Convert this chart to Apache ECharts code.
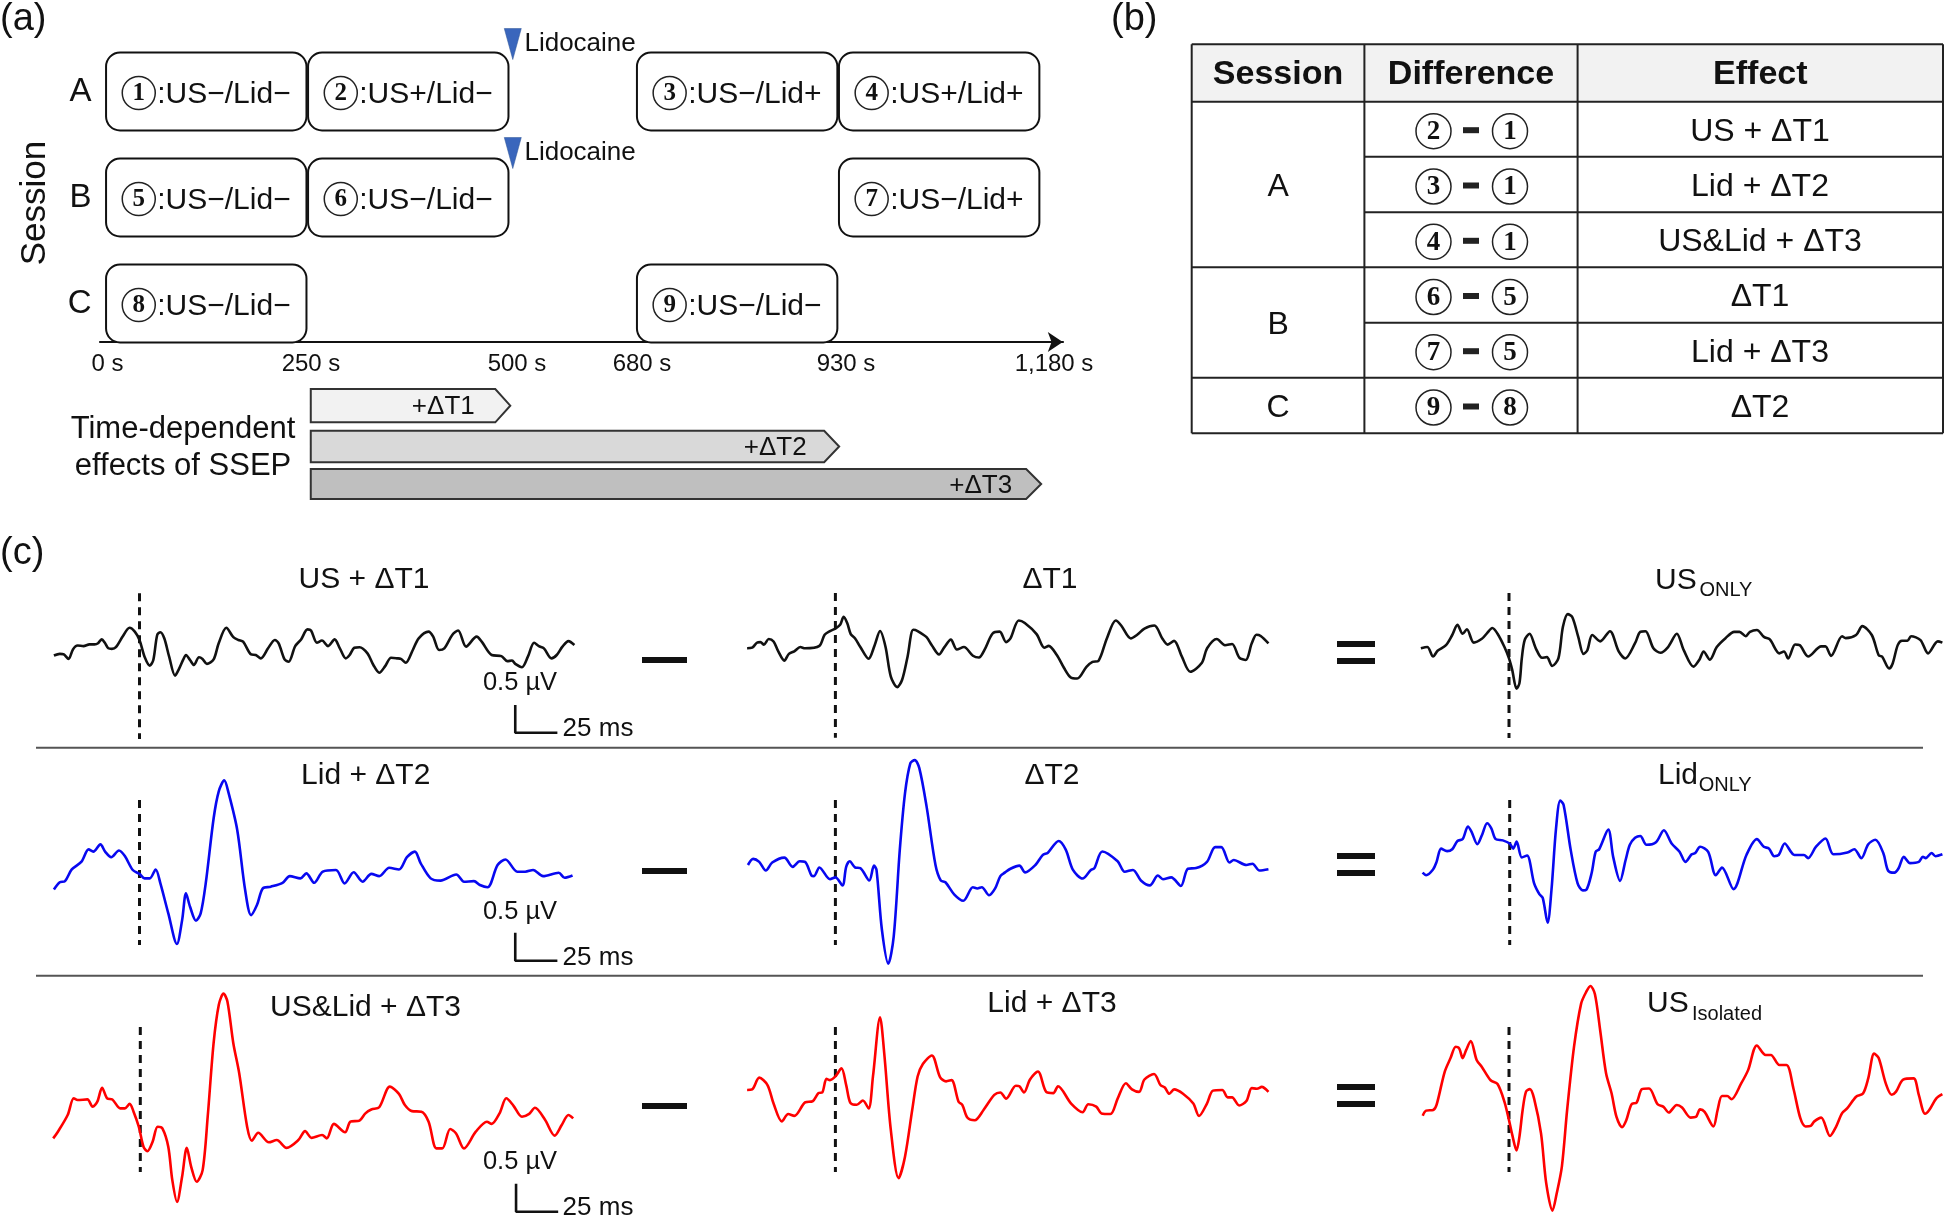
<!DOCTYPE html>
<html><head><meta charset="utf-8">
<style>html,body{margin:0;padding:0;background:#fff}#c{width:1946px;height:1217px}</style>
<script src="https://cdn.jsdelivr.net/npm/echarts@6/dist/echarts.min.js"></script>
</head><body><div id="c"></div>
<script>
// ---------- Panel (a) data: seconds ----------
const sessionRows = ['A','B','C'];
const sessionBlocks = [
 {row:0,start:0,end:250,num:'1',label:':US−/Lid−'},
 {row:0,start:250,end:500,num:'2',label:':US+/Lid−'},
 {row:0,start:680,end:930,num:'3',label:':US−/Lid+'},
 {row:0,start:930,end:1180,num:'4',label:':US+/Lid+'},
 {row:1,start:0,end:250,num:'5',label:':US−/Lid−'},
 {row:1,start:250,end:500,num:'6',label:':US−/Lid−'},
 {row:1,start:930,end:1180,num:'7',label:':US−/Lid+'},
 {row:2,start:0,end:250,num:'8',label:':US−/Lid−'},
 {row:2,start:680,end:930,num:'9',label:':US−/Lid−'}
];
const lidocaineTimes = [[500,0],[500,1]];
const timeTicks = ['0 s','250 s','500 s','680 s','930 s','1,180 s'];
const timeEffects = [
 {name:'+ΔT1',start:250,end:500,fill:'#F2F2F2'},
 {name:'+ΔT2',start:250,end:930,fill:'#D9D9D9'},
 {name:'+ΔT3',start:250,end:1180,fill:'#BFBFBF'}
];
// ---------- Panel (b) data ----------
const tableHeader = ['Session','Difference','Effect'];
const tableSessions = [['A',0,3],['B',3,5],['C',5,6]];
const tableDiffs = [['2','1'],['3','1'],['4','1'],['6','5'],['7','5'],['9','8']];
const tableEffects = ['US + ΔT1','Lid + ΔT2','US&Lid + ΔT3','ΔT1','Lid + ΔT3','ΔT2'];
// ---------- Panel (c) data: [ms from stimulus, amplitude µV] ----------
const usPlusT1 = [[-50.8,-.01],[-47.3,.02],[-44.9,.01],[-42.1,-.07],[-39.5,.10],[-36.7,.17],[-33.2,.16],[-29.7,.19],[-26.7,.19],[-24.6,.21],[-22.5,.28],[-20.4,.21],[-18.5,.12],[-16.4,.11],[-14,.14],[-9.8,.34],[-5.9,.49],[-2.8,.42],[0,.27],[3,-.03],[6.1,-.19],[8.2,-.09],[10.5,.36],[12.4,.41],[14.7,.3],[17.6,-.03],[21.1,-.37],[23.6,-.24],[26,-.08],[27.6,0],[30,-.09],[32.3,-.18],[35.3,-.04],[37.4,-.07],[40,-.16],[44,-.08],[47,.21],[51.5,.49],[55.7,.32],[58.7,.27],[61.5,.24],[66.2,.01],[69,0],[72,-.06],[76.3,.12],[80.3,.27],[82.6,.21],[86.1,-.08],[88.5,-.12],[92.4,.16],[95.9,.28],[99.7,.46],[101.8,.44],[105.3,.22],[108.3,.26],[111.9,.16],[115.8,.28],[118.9,.12],[122.4,-.06],[124.7,0],[127.5,.13],[130.6,.14],[135.3,.03],[138.8,-.18],[142.3,-.32],[145.8,-.2],[149.3,-.05],[152.8,-.06],[155.1,-.07],[158,-.14],[162.2,.09],[165.7,.3],[171.5,.42],[174.3,.33],[177.8,.09],[180.9,.12],[185.6,.36],[189.1,.44],[193.8,.15],[200.1,.33],[203.1,.24],[209,0],[214.8,-.02],[218.3,-.11],[221.1,-.1],[223,-.16],[227,-.22],[230.5,-.03],[234.2,.22],[237,.16],[240,.12],[244.5,-.06],[247.6,0],[251,.15],[254.6,.25],[258.1,.18]];
const deltaT1 = [[-52.4,0],[-49.4,.01],[-46.6,.09],[-44.5,.10],[-42.4,.06],[-39.6,.15],[-36.7,.11],[-33.9,-.05],[-30.3,-.2],[-27.6,-.09],[-24.4,-.05],[-20.8,.02],[-18,0],[-9.5,.04],[-6.4,.22],[-3.2,.28],[0,.32],[2.8,.38],[4.9,.51],[7,.41],[9.1,.23],[11.7,.16],[14.8,.02],[19.7,-.17],[23.3,.05],[26.5,.28],[29.7,.03],[32.9,-.46],[36.7,-.63],[39.6,-.51],[42.8,-.14],[46.2,.3],[48.8,.28],[54.1,.18],[57.2,.05],[61.5,-.1],[64.7,.02],[68.5,.14],[72.1,-.02],[76.3,.02],[81.6,-.12],[85.2,-.15],[88.4,-.03],[93.3,.24],[97.5,.27],[101.3,.1],[103.9,.16],[108.8,.45],[112.4,.41],[119.4,.23],[124,.01],[126.6,.04],[131.4,-.11],[135.7,-.32],[139.5,-.47],[143.5,-.49],[149,-.3],[152.6,-.22],[156.2,-.2],[161.1,.16],[166.4,.45],[169.6,.37],[175.3,.16],[179.1,.22],[183.4,.32],[189.3,.37],[194,.16],[197.2,.06],[201,.12],[205.7,-.14],[210.6,-.38],[217.4,-.24],[220.6,0],[226.3,.15],[231.2,.05],[235.4,.07],[239.7,-.15],[243.5,-.19],[247.1,.08],[249.9,.22],[252.4,.2],[257,.08]];
const usOnly = [[-52.3,0],[-48.5,.02],[-45,-.13],[-42.4,-.04],[-37.4,.05],[-33.7,.21],[-30.6,.37],[-27.5,.23],[-25,.3],[-20.9,.09],[-16.1,.15],[-13,.24],[-9.9,.32],[-6.8,.23],[-2.7,.02],[0,-.16],[1.9,-.34],[4.5,-.64],[6.2,-.55],[7.6,-.16],[9.3,.13],[12.2,.23],[15.9,0],[19.6,-.15],[22.5,-.14],[25.6,-.28],[29.3,-.16],[32,.34],[34.9,.54],[37.6,.49],[41.1,.18],[44.2,-.09],[46.5,-.03],[49.4,.21],[54.1,.11],[59.9,.27],[65.1,-.05],[69,-.16],[74.8,.08],[77.9,.26],[81,.27],[85.7,0],[89.9,-.07],[94.4,.02],[99.6,.23],[103.7,-.03],[109.5,-.29],[113,-.18],[115.5,-.05],[119.2,-.18],[123.3,.02],[128.5,.16],[133.7,.26],[136.8,.26],[140.5,.19],[143,.26],[147.1,.29],[151.3,.18],[154.8,.14],[160.5,-.08],[163.2,-.05],[165.7,-.16],[169.8,.06],[172.5,.05],[177.5,-.13],[185.3,.03],[187.8,.03],[191.1,-.12],[197.7,.19],[199.8,.16],[206,.21],[209.7,.35],[215.3,.21],[219.4,-.11],[221.4,-.13],[225.6,-.32],[227.7,-.24],[230.7,.05],[233.2,.12],[236.5,.12],[238.6,.19],[244.2,.13],[248.7,-.08],[254.5,.11],[257.2,.09]];
const lidPlusT2 = [[-50.8,-.23],[-47.3,-.1],[-44.2,-.08],[-40.2,.13],[-34.4,.27],[-30.2,.49],[-27.4,.45],[-23.2,.58],[-20.4,.45],[-16.8,.35],[-12.2,.47],[-8.7,.37],[-4,.12],[0,.05],[3,-.03],[6.1,-.03],[9.6,.13],[12.4,-.12],[17.1,-.66],[22.2,-1.21],[25.3,-.78],[27.6,-.3],[30,-.54],[33.5,-.79],[36.3,-.66],[39.3,-.12],[44,1.05],[47,1.53],[50.3,1.73],[52.9,1.5],[58,.84],[62.7,-.24],[66.2,-.69],[69.7,-.51],[73.2,-.21],[77.9,-.18],[84.9,-.11],[89.2,.01],[95.5,-.03],[99,.06],[103.7,-.11],[108.8,.09],[116.6,.12],[121.7,-.12],[127.1,.08],[132.4,-.09],[137.6,.05],[142.3,.01],[148.2,.16],[154,.13],[158.7,.35],[163.4,.45],[166.9,.24],[172.8,-.03],[178.6,-.07],[188,.04],[192.6,-.09],[198.5,-.08],[202,-.15],[206.6,-.19],[212.5,.21],[217.2,.31],[224.2,.09],[228.9,.09],[233.6,.12],[239.5,.01],[248.8,.07],[252.3,-.02],[257,.02]];
const deltaT2 = [[-51.9,0],[-48.8,.1],[-45.2,.05],[-41.3,-.09],[-37.5,.04],[-30.3,.12],[-25.4,-.03],[-21.2,.06],[-18,.05],[-14.2,-.17],[-12.7,-.18],[-9.5,-.04],[-3.2,-.23],[0,-.2],[4.2,-.33],[6.4,-.03],[8.5,.06],[11.7,-.04],[14.8,-.05],[20.1,-.25],[22.9,-.01],[24.4,-.08],[27.6,-1.05],[31.4,-1.6],[34.6,-1.16],[38.2,.24],[41.3,1.16],[44.5,1.65],[47.1,1.7],[49.8,1.57],[54.1,.95],[59.4,0],[62.5,-.25],[65.3,-.28],[70.6,-.48],[75.9,-.58],[81.6,-.36],[84.2,-.38],[86.9,-.36],[91.2,-.49],[94.8,-.38],[97.9,-.18],[100.7,-.12],[103.9,-.06],[109.2,-.01],[112.6,-.12],[118.7,0],[123,.16],[126.1,.2],[132.5,.39],[136.7,.25],[141,-.08],[146.7,-.22],[151.6,-.08],[153.7,-.05],[158.4,.22],[167.5,.06],[171.7,-.11],[176.6,-.08],[181.3,-.25],[186.6,-.33],[191.4,-.17],[194.4,-.23],[199.3,-.2],[205,-.34],[209.2,-.06],[214.1,-.05],[220.5,.05],[225.4,.29],[229,.29],[233.9,.04],[236.4,.08],[243.9,0],[247.5,.02],[251.7,-.09],[257,-.07]];
const lidOnly = [[-51.7,-.2],[-49.6,-.24],[-45.5,-.15],[-43.4,-.03],[-40.7,.18],[-37.2,.14],[-34.1,.17],[-31,.3],[-27.9,.33],[-24.8,.53],[-22.7,.45],[-19.2,.25],[-16.5,.39],[-13.4,.58],[-10.9,.5],[-8.3,.33],[-4.1,.31],[0,.26],[2.1,.18],[4.1,.29],[7.2,.04],[10.3,.07],[14.5,-.37],[17.6,-.54],[19.6,-.6],[22.5,-.99],[24.8,-.47],[27.5,.5],[30,.94],[32,.87],[36.2,.16],[40.3,-.37],[43.4,-.48],[45.5,-.47],[48.6,-.21],[51,.13],[53.1,.17],[58.5,.48],[61.4,.05],[65.5,-.33],[68.8,0],[71.3,.24],[74.4,.35],[77.5,.38],[81.2,.24],[86.8,.28],[91.5,.47],[96.1,.26],[100.8,.13],[104.3,-.03],[108,.09],[110.1,.11],[113,.21],[117.8,.13],[122.3,-.24],[126,-.12],[132.8,-.46],[140.5,.08],[146.7,.33],[150.8,.21],[153.9,.18],[157,.06],[159.7,.08],[163.2,.26],[169,.08],[174.6,.08],[177.1,.03],[181.8,.21],[187.4,.34],[192.1,.09],[200.4,.12],[204.5,.17],[208.7,.03],[212.8,.25],[217,.32],[221.7,.11],[224.6,-.17],[228.3,-.2],[230.8,-.13],[233.9,.05],[237.6,-.05],[242.8,-.03],[245.2,.05],[246.9,.03],[250.4,.11],[252.7,.06],[256.8,.09]];
const usLidPlusT3 = [[-51.7,-.51],[-48.9,-.39],[-43.1,-.09],[-39.5,.21],[-37.2,.18],[-31.4,.19],[-28.3,.06],[-25.5,.15],[-22.7,.4],[-19.7,.21],[-16.6,.19],[-11.9,.03],[-9.1,.03],[-6.3,.11],[-4,-.03],[-.9,-.3],[1.9,-.66],[4.2,-.74],[7.3,-.57],[10.3,-.3],[13.1,-.33],[16.6,-.66],[19,-1.26],[21.8,-1.65],[24.8,-1.2],[27.6,-.68],[30.2,-1.02],[33.5,-1.29],[37,-1.08],[40,-.12],[43.5,1.2],[46.6,1.89],[49.4,2.09],[51.7,1.95],[55.2,1.2],[58.7,.66],[63.4,-.3],[66.2,-.55],[70,-.41],[76.3,-.58],[81,-.54],[86.8,-.68],[93.8,-.54],[97.8,-.38],[101.6,-.5],[107.9,-.45],[110.7,-.51],[114.9,-.25],[121.5,-.4],[124.7,-.21],[130.1,-.19],[133.6,-.06],[137.1,.01],[141.8,.05],[148.1,.42],[153.5,.29],[157,.09],[161.2,-.02],[166.8,-.03],[171.1,-.21],[175.7,-.69],[179.2,-.69],[183.9,-.34],[187.4,-.42],[192.1,-.69],[199.1,-.39],[205.7,-.21],[208.5,-.25],[213.2,-.06],[217.2,.21],[221.4,.08],[226.5,-.12],[230.8,-.07],[234.2,.04],[240.1,-.17],[245.9,-.46],[250.1,-.27],[254.1,-.09],[256.9,-.15]];
const lidPlusT3 = [[-52.4,0],[-49.4,.01],[-45.2,.2],[-40.3,.08],[-36.7,-.22],[-31.8,-.51],[-28,-.39],[-24.4,-.42],[-18,-.2],[-13.4,-.18],[-10,-.05],[-7.8,-.04],[-5.3,.18],[-3.2,.16],[0,.22],[3.6,.35],[6.4,.08],[8.9,-.21],[12.7,-.24],[16.3,-.17],[19.7,-.3],[22.3,.22],[26.5,1.18],[29,.59],[32.9,-.65],[37.5,-1.43],[41.3,-1.08],[45.6,-.32],[48.8,.22],[51.9,.42],[57.2,.56],[62.1,.21],[65.7,.14],[68.9,.16],[73.1,-.19],[75.3,-.24],[78.4,-.45],[82.7,-.49],[88,-.32],[94.3,-.08],[97.9,-.04],[101.3,-.14],[107.1,.07],[109.2,.06],[111.9,-.04],[115.5,.17],[120.2,.3],[125.1,-.03],[129.3,-.05],[132.1,.06],[139.9,-.22],[146.7,-.36],[150.1,-.23],[154.8,-.27],[157.9,-.38],[163.2,-.39],[167.5,-.14],[172.4,.11],[176,.01],[180.2,-.03],[183.4,.17],[189.1,.26],[192.9,.08],[195.5,.04],[198.2,-.06],[201,.01],[206.3,-.06],[212.4,-.22],[215.8,-.42],[220.5,-.22],[224.1,-.01],[229.6,0],[232.8,-.12],[235.4,-.12],[239.6,-.25],[243.9,-.18],[247.1,.03],[250.2,.02],[253,.05],[257,-.03]];
const usIsolated = [[-51.2,-.09],[-49.2,-.01],[-45,0],[-43,.08],[-38.2,.6],[-34.7,.82],[-31.6,1],[-29.5,.97],[-27.5,.82],[-25.4,.95],[-22.7,1.09],[-19.2,.79],[-16.1,.68],[-10.9,.47],[-6.8,.41],[-2.7,.13],[0,-.16],[1.9,-.39],[4.5,-.64],[6.2,-.42],[8.1,0],[10.1,.29],[12.4,.33],[14.9,.18],[19,-.37],[22.1,-1.16],[25.8,-1.59],[28.3,-1.32],[31.4,-.89],[34.5,0],[38.6,1],[42.8,1.68],[45.9,1.87],[48.3,1.96],[51,1.83],[54.1,1.26],[57.6,.58],[60.9,.26],[63.8,-.11],[67.1,-.27],[69.6,-.16],[72.7,.09],[75.8,.12],[78.9,.33],[83.1,.34],[88.2,.09],[91.7,.05],[94.8,-.04],[99.6,.08],[102.7,.04],[107.8,-.12],[110.9,-.11],[113.4,.01],[116.1,-.03],[121.3,-.26],[123.8,0],[126.4,.22],[129.5,.22],[132,.17],[137.8,.42],[141.9,.63],[147.1,1.02],[152.3,.87],[155.4,.87],[160.5,.71],[164.7,.71],[168.8,.34],[172.9,-.13],[176,-.26],[179.1,-.25],[181.2,-.18],[185.3,-.12],[190.5,-.41],[194,-.27],[197.7,-.05],[200.8,.03],[206,.21],[210.1,.26],[213.2,.5],[216.7,.89],[219.4,.82],[223.6,.42],[227.1,.24],[229.7,.29],[233.9,.48],[240.1,.5],[243.2,.24],[246.9,-.06],[249.4,0],[253.5,.18],[257.2,.25]];
const stimExtent = [[1.11,-1.51],[.896,-1.45],[.874,-1.417],[1.378,-1.227],[1.053,-1.297],[.948,-1.343],[1.49,-1.114],[1.02,-1.33],[1.31,-.98]];
const scaleBarMs = 25, scaleBarUv = 0.5, scaleBarAt = [[223,-1.396],[223,-1.509],[223,-1.827]];
const traces = [usPlusT1,deltaT1,usOnly,lidPlusT2,deltaT2,lidOnly,usLidPlusT3,lidPlusT3,usIsolated];
const rowColors = ['#111111','#0808F0','#FF0000'];

// ---------- layout ----------
const F = '"Liberation Sans", Arial, sans-serif';
const INK = '#111';
const pxPerMs = 1.685;
const columnGain = [55.67,61.7,63.3];
const stimX = [139.5,835.4,1509, 139.5,835.4,1509.7, 140.3,835.4,1509];
const zeroY = [655,648.3,648.3, 876.7,865,860, 1110,1090,1110];

const grids=[{left:99.6,top:38.5,width:963.2,height:318}], xAxes=[{
  gridIndex:0,type:'value',min:-7,max:1208,position:'bottom',offset:-14.5,
  breaks:[{start:500,end:680,gap:157}],breakArea:{show:false},
  axisLine:{show:true,onZero:false,lineStyle:{color:'#111',width:2.2},symbol:['none','arrow'],symbolSize:[15,15]},
  axisTick:{show:false},axisLabel:{show:false},splitLine:{show:false}}],
 yAxes=[{gridIndex:0,type:'category',data:sessionRows,inverse:true,
  axisLine:{show:false},axisTick:{show:false},splitLine:{show:false},
  axisLabel:{margin:8,fontFamily:F,fontSize:33,color:INK}}], series=[];

function boxItem(params,api){
  const b=sessionBlocks[params.dataIndex];
  const p0=api.coord([b.start,b.row]), p1=api.coord([b.end,b.row]);
  const x0=p0[0], x1=p1[0], cy=p0[1];
  return {type:'group',children:[
   {type:'rect',shape:{x:x0+0.8,y:cy-39,width:x1-x0-1.6,height:78,r:14},style:{fill:'#fff',stroke:'#111',lineWidth:2}},
   {type:'circle',shape:{cx:x0+33.5,cy:cy+1.5,r:16.5},style:{fill:'none',stroke:'#222',lineWidth:1.5}},
   {type:'text',style:{x:x0+33.5,y:cy+2.5,text:b.num,font:'bold 25px "Liberation Serif", serif',fill:'#111',align:'center',verticalAlign:'middle'}},
   {type:'text',style:{x:x0+52,y:cy+3,text:b.label,font:'30px '+F,fill:INK,align:'left',verticalAlign:'middle'}}
  ]};
}
series.push({type:'custom',xAxisIndex:0,yAxisIndex:0,clip:false,z:3,renderItem:boxItem,
  encode:{x:[0,1],y:2},data:sessionBlocks.map(b=>[b.start,b.end,b.row])});
const lidLabel={show:true,position:'right',distance:3,formatter:'Lidocaine',fontFamily:F,fontSize:26,color:INK};
series.push({type:'scatter',xAxisIndex:0,yAxisIndex:0,clip:false,z:4,
  data:[{value:lidocaineTimes[0],symbolOffset:[3.5,-47.5]},{value:lidocaineTimes[1],symbolOffset:[3.5,-44.5]}],
  symbol:'triangle',symbolRotate:180,symbolSize:[17,31],
  itemStyle:{color:'#3A66BC',borderColor:'#2F5597',borderWidth:0.5,opacity:1},label:lidLabel});
const effTop=[389,430.7,469], effH=[33.3,31.6,30];
function effItem(params,api){
  const i=params.dataIndex,e=timeEffects[i];
  const x0=api.coord([e.start,0])[0]+3.5, x1=api.coord([e.end,0])[0]+1;
  const t=effTop[i],h=effH[i],n=x1-15;
  return {type:'group',children:[
   {type:'polygon',shape:{points:[[x0,t],[n,t],[x1,t+h/2],[n,t+h],[x0,t+h]]},style:{fill:e.fill,stroke:'#333',lineWidth:2}},
   {type:'text',style:{x:n-(i==0?52:i==1?49:45.5),y:t+h/2+1.5,text:e.name,font:'26px '+F,fill:INK,align:'center',verticalAlign:'middle'}}
  ]};
}
series.push({type:'custom',xAxisIndex:0,yAxisIndex:0,clip:false,z:3,renderItem:effItem,
  encode:{x:[0,1]},data:timeEffects.map(e=>[e.start,e.end,0])});

const yTop=2, yBottom=-1.6;
traces.forEach((tr,i)=>{
  const col=i%3,row=Math.floor(i/3),g=columnGain[col],k=i+1;
  grids.push({left:stimX[i]-52*pxPerMs,top:zeroY[i]-yTop*g,width:310*pxPerMs,height:(yTop-yBottom)*g});
  xAxes.push({gridIndex:k,type:'value',min:-52,max:258,show:false});
  yAxes.push({gridIndex:k,type:'value',min:yBottom,max:yTop,show:false});
  series.push({type:'line',xAxisIndex:k,yAxisIndex:k,clip:false,z:5,data:tr,symbol:'none',showSymbol:false,
    smooth:0.3,lineStyle:{color:rowColors[row],width:2.6,join:'round'},silent:true});
  series.push({type:'line',xAxisIndex:k,yAxisIndex:k,clip:false,z:4,data:[[0,stimExtent[i][0]],[0,stimExtent[i][1]]],
    symbol:'none',showSymbol:false,lineStyle:{color:'#111',width:3,type:[8,6]},silent:true});
  if(col===0){
    const a=scaleBarAt[row];
    series.push({type:'line',xAxisIndex:k,yAxisIndex:k,clip:false,z:4,symbol:'none',showSymbol:false,silent:true,
      data:[[a[0],a[1]+scaleBarUv],[a[0],a[1]],[a[0]+scaleBarMs,a[1]]],lineStyle:{color:'#111',width:2.6}});
  }
});

// ---------- texts and static drawing ----------
const G=[];
function T(x,y,text,size,o){o=o||{};G.push({type:'text',x:x,y:y,rotation:o.rot||0,z:10,style:{text:text,
  font:(o.bold?'bold ':'')+size+'px '+(o.font||F),fill:o.fill||INK,align:o.align||'center',verticalAlign:'middle',
  textAlign:o.align||'center',textVerticalAlign:'middle'}});}
function L(x1,y1,x2,y2,w,c){G.push({type:'line',z:9,shape:{x1:x1,y1:y1,x2:x2,y2:y2},style:{stroke:c||'#222',lineWidth:w}});}
function R(x,y,w,h,c){G.push({type:'rect',z:9,shape:{x:x,y:y,width:w,height:h},style:{fill:c}});}
function Circ(x,y,r,d,fs){G.push({type:'circle',z:10,shape:{cx:x,cy:y,r:r},style:{fill:'none',stroke:'#222',lineWidth:1.5}});
  T(x,y+1,d,fs,{bold:true,font:'"Liberation Serif", serif',fill:'#111'});}

T(0,20,'(a)',38,{align:'left'}); T(1111,20,'(b)',38,{align:'left'}); T(0,554,'(c)',38,{align:'left'});
T(35,203,'Session',35,{rot:Math.PI/2});
[107.6,311,517,642,846,1054].forEach((x,i)=>T(x,364,timeTicks[i],24));
T(183,429,'Time-dependent',31); T(183,466,'effects of SSEP',31);
L(505,342,642,342,2.2,'#111');

// table
const tx=[1191.7,1364.4,1577.6,1943], ty=[44.3,101.7,156.7,212.3,267.3,322.7,377.7,433.3];
R(tx[0],ty[0],tx[3]-tx[0],ty[1]-ty[0],'#F2F2F2');
tableHeader.forEach((h,i)=>T((tx[i]+tx[i+1])/2,(ty[0]+ty[1])/2+2,h,34,{bold:true,fill:'#111'}));
tableSessions.forEach(s=>{T((tx[0]+tx[1])/2,(ty[s[1]+1]+ty[s[2]+1])/2+3,s[0],32);
  L(tx[0],ty[s[2]+1],tx[3],ty[s[2]+1],2);});
L(tx[0],ty[0],tx[3],ty[0],2); L(tx[0],ty[1],tx[3],ty[1],2);
[1,2,4].forEach(r=>L(tx[1],ty[r+1],tx[3],ty[r+1],2));
tx.forEach(x=>L(x,ty[0],x,ty[7],2));
tableDiffs.forEach((d,i)=>{const y=(ty[i+1]+ty[i+2])/2+2;
  Circ(1433.5,y,17.5,d[0],27); R(1463,y-4,16,6,'#222'); Circ(1510,y,17.5,d[1],27);
  T(1760,y+0.5,tableEffects[i],32);});

// panel (c) titles
T(364,580,'US + ΔT1',30); T(1050,580,'ΔT1',30);
T(1655,581,'US',30,{align:'left'}); T(1699.4,590,'ONLY',20,{align:'left'});
T(365.7,776,'Lid + ΔT2',30); T(1052,776,'ΔT2',30);
T(1658,776,'Lid',30,{align:'left'}); T(1698.7,785,'ONLY',20,{align:'left'});
T(365.5,1008,'US&Lid + ΔT3',30); T(1052,1004,'Lid + ΔT3',30);
T(1647,1004,'US',30,{align:'left'}); T(1692,1014,'Isolated',20,{align:'left'});
[[683,729],[912,957.5],[1162,1208]].forEach(p=>{T(520,p[0],'0.5 µV',25.5);T(598,p[1],'25 ms',26);});
L(36,747.7,1923,747.7,2,'#555'); L(36,975.7,1923,975.7,2,'#555');
[660,871,1106].forEach(y=>R(642,y-3,45,6,'#111'));
[[644,661],[856,873],[1087,1104]].forEach(p=>p.forEach(y=>R(1337,y-3,38,6,'#111')));

const chart=echarts.init(document.getElementById('c'),null,{renderer:'canvas'});
chart.setOption({animation:false,backgroundColor:'#fff',grid:grids,xAxis:xAxes,yAxis:yAxes,series:series,graphic:{elements:G}});
</script></body></html>
